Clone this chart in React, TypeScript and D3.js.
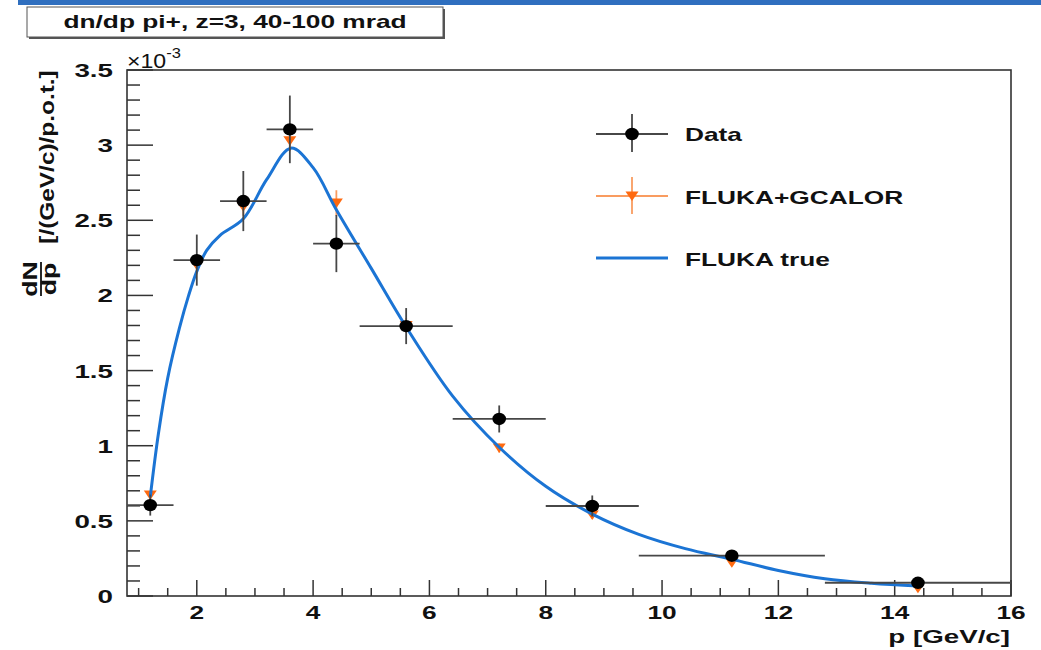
import React from "react";
import * as d3 from "d3";

// ---- data (values in units of 1e-3) ----
const pCenter = [1.2, 2.0, 2.8, 3.6, 4.4, 5.6, 7.2, 8.8, 11.2, 14.4];
const pLow = [0.8, 1.6, 2.4, 3.2, 4.0, 4.8, 6.4, 8.0, 9.6, 12.8];
const pHigh = [1.6, 2.4, 3.2, 4.0, 4.8, 6.4, 8.0, 9.6, 12.8, 16.0];
const dataVals = [0.605, 2.235, 2.628, 3.105, 2.345, 1.796, 1.178, 0.599, 0.268, 0.088];
const dataErr = [0.07, 0.17, 0.2, 0.225, 0.19, 0.12, 0.09, 0.07, 0.03, 0.02];
const flukaVals = [0.672, 2.2, 2.59, 3.03, 2.615, 1.8, 0.985, 0.539, 0.222, 0.051];
const flukaErr = [0.02, 0.05, 0.06, 0.07, 0.085, 0.05, 0.03, 0.025, 0.015, 0.01];
const trueX = [1.2, 1.34, 1.5, 1.7, 1.86, 2.0, 2.17, 2.4, 2.8, 3.2, 3.62, 4.0, 4.4, 5.0, 5.6, 6.4, 7.2, 8.0, 8.8, 9.6, 10.4, 11.2, 12.0, 12.8, 13.6, 14.4];
const trueY = [0.66, 1.08, 1.45, 1.78, 2.0, 2.16, 2.3, 2.4, 2.51, 2.77, 2.98, 2.85, 2.57, 2.18, 1.79, 1.33, 0.99, 0.73, 0.545, 0.41, 0.315, 0.245, 0.17, 0.115, 0.085, 0.066];
const xMajorTicks = [2, 4, 6, 8, 10, 12, 14, 16];
const yMajorTicks = [0, 0.5, 1, 1.5, 2, 2.5, 3, 3.5];
const legendLabels = ["Data", "FLUKA+GCALOR", "FLUKA true"];
const titleText = "dn/dp pi+, z=3, 40-100 mrad";
const xTitle = "p [GeV/c]";
const yTitleUnit = "[/(GeV/c)/p.o.t.]";

const FONT = "'Liberation Sans', Arial, Helvetica, sans-serif";
const SX = 1.46;
const BLUE = "#1b74d4";
const ORANGE = "#ff6a10";
const ORANGE_LINE = "#f99c60";
const ERR = "#474747";

function SText({ x, y, size, anchor = "start", weight = "bold", rotate = 0, sx = SX, children }: any) {
  return (
    <text
      transform={`translate(${x},${y}) rotate(${rotate}) scale(${sx},1)`}
      fontFamily={FONT}
      fontSize={size}
      fontWeight={weight}
      textAnchor={anchor}
      fill="#111"
    >
      {children}
    </text>
  );
}

const tri = (cx: number, cy: number) =>
  `M${cx - 6.5},${cy - 4.5} L${cx + 6.5},${cy - 4.5} L${cx},${cy + 5} Z`;

export default function App() {
  const W = 1041, H = 650;
  const x = d3.scaleLinear().domain([0.8, 16]).range([127, 1011]);
  const y = d3.scaleLinear().domain([0, 3.5]).range([596, 70]);

  const xMinor = d3.range(1, 16, 0.5).filter((v) => !xMajorTicks.includes(v));
  const yMinor = d3.range(0, 35).map((v) => v / 10).filter((v) => Math.abs(v * 2 - Math.round(v * 2)) > 1e-6);

  const line = d3
    .line<number>()
    .x((_, i) => x(trueX[i]))
    .y((d) => y(d))
    .curve(d3.curveCatmullRom.alpha(0.5));

  return (
    <svg width={W} height={H} style={{ position: "absolute", left: 0, top: 0, background: "#fff" }}>
      <rect x={0} y={0} width={W} height={H} fill="#fff" />
      {/* top blue band */}
      <rect x={18} y={0} width={W - 18} height={5} fill="#2f6fbf" />

      {/* title box */}
      <rect x={29} y={9} width={416} height={30} fill="#555" />
      <rect x={27} y={7} width={416} height={30} fill="#fff" stroke="#555" strokeWidth={1} />
      <SText x={235} y={28} size={18} anchor="middle">{titleText}</SText>

      {/* frame */}
      <rect x={127} y={70} width={884} height={526} fill="none" stroke="#333" strokeWidth={1.6} />

      {/* x ticks */}
      {xMajorTicks.map((t) => (
        <g key={"xM" + t}>
          <line x1={x(t)} x2={x(t)} y1={596} y2={580} stroke="#333" strokeWidth={1.5} />
          <SText x={x(t)} y={619} size={18} anchor="middle">{String(t)}</SText>
        </g>
      ))}
      {xMinor.map((t) => (
        <line key={"xm" + t} x1={x(t)} x2={x(t)} y1={596} y2={588} stroke="#333" strokeWidth={1.5} />
      ))}
      <SText x={1010} y={643} size={19} anchor="end">{xTitle}</SText>

      {/* y ticks */}
      {yMajorTicks.map((t) => (
        <g key={"yM" + t}>
          <line x1={127} x2={153} y1={y(t)} y2={y(t)} stroke="#333" strokeWidth={1.5} />
          <SText x={113} y={y(t) + 7} size={19} anchor="end">{String(t)}</SText>
        </g>
      ))}
      {yMinor.map((t) => (
        <line key={"ym" + t} x1={127} x2={140} y1={y(t)} y2={y(t)} stroke="#333" strokeWidth={1.5} />
      ))}
      {/* exponent */}
      <text transform={`translate(127,68) scale(1.1,1)`} fontFamily={FONT} fontSize={21} fill="#111">
        ×10
        <tspan fontSize={15} dy={-10}>-3</tspan>
      </text>

      {/* y title */}
      <SText x={54} y={157} size={20} anchor="middle" rotate={-90} sx={1.22}>{yTitleUnit}</SText>
      <SText x={37} y={279} size={20} anchor="middle" rotate={-90} sx={1.33}>dN</SText>
      <line x1={41} x2={41} y1={262} y2={296} stroke="#111" strokeWidth={1.8} />
      <SText x={56} y={279} size={20} anchor="middle" rotate={-90} sx={1.33}>dp</SText>

      {/* FLUKA+GCALOR */}
      {pCenter.map((p, i) => (
        <g key={"f" + i}>
          <line x1={x(p)} x2={x(p)} y1={y(flukaVals[i] - flukaErr[i])} y2={y(flukaVals[i] + flukaErr[i])} stroke={ORANGE_LINE} strokeWidth={1.8} />
          <path d={tri(x(p), y(flukaVals[i]))} fill={ORANGE} />
        </g>
      ))}

      {/* FLUKA true */}
      <path d={line(trueY) || ""} fill="none" stroke={BLUE} strokeWidth={3} />

      {/* Data */}
      {pCenter.map((p, i) => (
        <g key={"d" + i}>
          <line x1={x(pLow[i])} x2={x(pHigh[i])} y1={y(dataVals[i])} y2={y(dataVals[i])} stroke={ERR} strokeWidth={1.8} />
          <line x1={x(p)} x2={x(p)} y1={y(dataVals[i] - dataErr[i])} y2={y(dataVals[i] + dataErr[i])} stroke={ERR} strokeWidth={1.8} />
          <ellipse cx={x(p)} cy={y(dataVals[i])} rx={6.8} ry={6.2} fill="#000" />
        </g>
      ))}

      {/* legend */}
      <g>
        <line x1={596} x2={668} y1={134} y2={134} stroke={ERR} strokeWidth={1.8} />
        <line x1={632} x2={632} y1={114} y2={152} stroke={ERR} strokeWidth={1.8} />
        <ellipse cx={632} cy={134} rx={6.8} ry={6.2} fill="#000" />
        <SText x={685} y={141} size={18}>{legendLabels[0]}</SText>

        <line x1={596} x2={668} y1={196} y2={196} stroke={ORANGE_LINE} strokeWidth={1.8} />
        <line x1={632} x2={632} y1={177} y2={214} stroke={ORANGE_LINE} strokeWidth={1.8} />
        <path d={tri(632, 196)} fill={ORANGE} />
        <SText x={685} y={204} size={18}>{legendLabels[1]}</SText>

        <line x1={596} x2={668} y1={258} y2={258} stroke={BLUE} strokeWidth={3} />
        <SText x={685} y={266} size={18}>{legendLabels[2]}</SText>
      </g>
    </svg>
  );
}
